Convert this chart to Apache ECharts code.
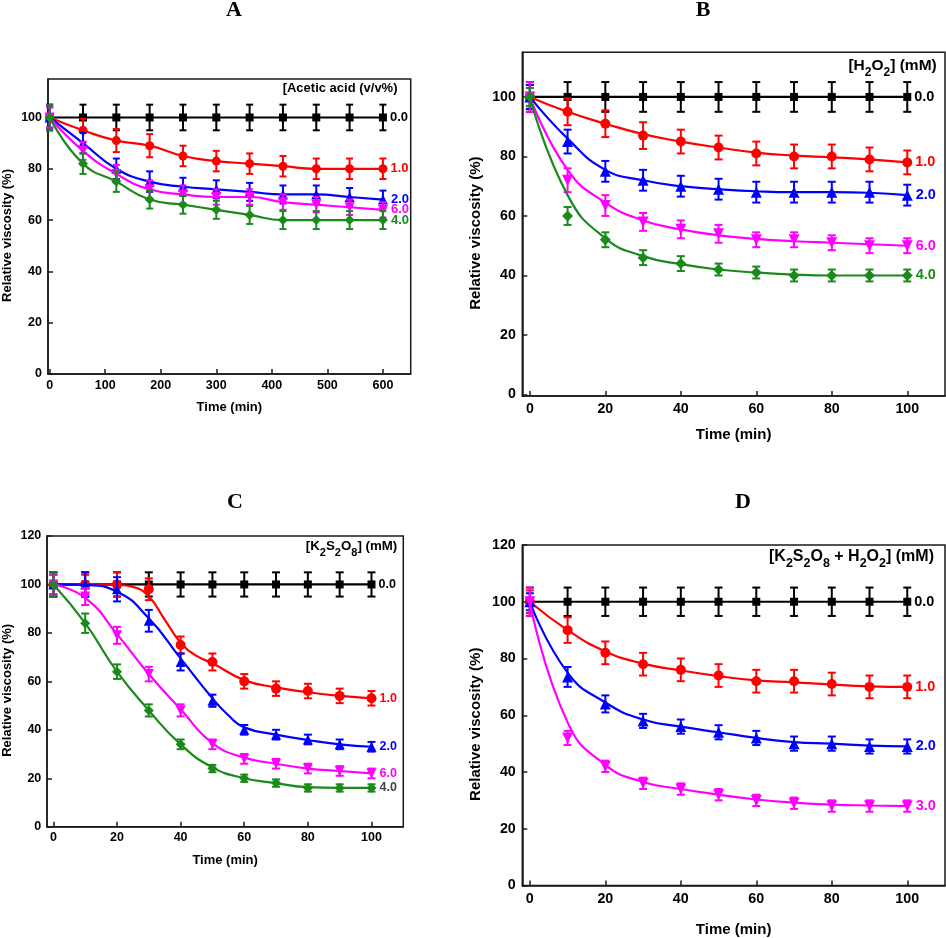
<!DOCTYPE html>
<html><head><meta charset="utf-8">
<script src="https://cdn.jsdelivr.net/npm/echarts@6/dist/echarts.min.js"></script>
<style>html,body{margin:0;padding:0;background:#fff}#c{width:946px;height:938px}</style>
</head><body><div id="c"></div>
<script>
// ---------- data ----------
const timeA = [0, 60, 120, 180, 240, 300, 360, 420, 480, 540, 600];
const timeBCD = [0, 10, 20, 30, 40, 50, 60, 70, 80, 90, 100];
const xTicksA = [0, 100, 200, 300, 400, 500, 600];
const xTicksBCD = [0, 20, 40, 60, 80, 100];
const yTicksAB = [0, 20, 40, 60, 80, 100];
const yTicksCD = [0, 20, 40, 60, 80, 100, 120];
const namesABC = ['0.0', '1.0', '2.0', '6.0', '4.0'];
const namesD = ['0.0', '1.0', '2.0', '3.0'];
const panelTitles = ['A', 'B', 'C', 'D'];
const xAxisName = 'Time (min)';
const yAxisName = 'Relative viscosity (%)';

// Panel A: acetic acid
const A0 = [100, 100, 100, 100, 100, 100, 100, 100, 100, 100, 100];
const A1 = [100, 95, 91, 89, 85, 83, 82, 81, 80, 80, 80];
const A2 = [100, 90, 80, 75, 73, 72, 71, 70, 70, 69, 68];
const A6 = [100, 87, 78, 72, 70, 69, 69, 67, 66, 65, 64];
const A4 = [100, 82, 75, 68, 66, 64, 62, 60, 60, 60, 60];
const errA0 = [5, 5, 5, 5, 5, 5, 5, 5, 5, 5, 5];
const errA1 = [4, 4.5, 4.5, 4.5, 4, 4, 4, 4, 4, 4, 4];
const errA2 = [4, 4, 4, 4, 3.5, 3.5, 3.5, 3.5, 3.5, 3.5, 3.5];
const errA6 = [4, 3.5, 3.5, 3.5, 3.5, 3, 3, 3, 3, 3, 3];
const errA4 = [5, 4, 4, 3.5, 3.5, 3.5, 3.5, 3.5, 3.5, 3.5, 3.5];

// Panel B: H2O2
const B0 = [100, 100, 100, 100, 100, 100, 100, 100, 100, 100, 100];
const B1 = [100, 95, 91, 87, 85, 83, 81, 80, 80, 79, 78];
const B2 = [100, 85, 75, 72, 70, 69, 68, 68, 68, 68, 67];
const B6 = [100, 72, 63.5, 58, 55.5, 54, 52, 52, 51, 50, 50];
const B4 = [100, 60, 52, 46, 44, 42, 41, 40, 40, 40, 40];
const errB0 = [5, 5, 5, 5, 5, 5, 5, 5, 5, 5, 5];
const errB1 = [4, 4.5, 4.5, 4.5, 4, 4, 4, 4, 4, 4, 4];
const errB2 = [4, 4, 3.5, 3.5, 3.5, 3.5, 3.5, 3.5, 3.5, 3.5, 3.5];
const errB6 = [5, 4, 3.5, 3, 3, 3, 2.5, 2.5, 2.5, 2.5, 2.5];
const errB4 = [3, 3, 2.5, 2.5, 2.5, 2, 2, 2, 2, 2, 2];
const fitB1 = [100, 95, 91, 87.5, 85, 83, 81.3, 80.3, 79.7, 79, 78];
const fitB2 = [100, 86, 75.5, 72, 70, 69, 68.3, 68, 68, 67.8, 67];
const fitB6 = [100, 75.5, 64.5, 58.5, 55.5, 53.5, 52.3, 51.5, 51, 50.5, 50];
const fitB4 = [100, 67, 52.5, 46.5, 43.8, 42, 41, 40.3, 40, 40, 40];

// Panel C: K2S2O8
const C0 = [100, 100, 100, 100, 100, 100, 100, 100, 100, 100, 100];
const C1 = [100, 100, 100, 98, 75, 68, 60, 57, 56, 54, 53];
const C2 = [100, 100, 98, 85, 68, 52, 40, 38, 36, 34, 33];
const C6 = [100, 95, 79, 63, 48, 34, 28, 26, 24, 23, 22];
const C4 = [100, 84, 64, 48, 34, 24, 20, 18, 16, 16, 16];
const errC0 = [5, 5, 5, 5, 5, 5, 5, 5, 5, 5, 5];
const errC1 = [4, 4, 5, 4.5, 3.5, 3.5, 3, 3, 3, 3, 3];
const errC2 = [5, 5, 5, 4.5, 3.5, 2.5, 2, 2, 2, 2, 2];
const errC6 = [4, 3.5, 3.5, 3, 2.5, 2, 2, 2, 2, 2, 2];
const errC4 = [5, 4, 3, 2.5, 2, 1.5, 1.5, 1.5, 1.5, 1.5, 1.5];
const fitTimeC1 = [0, 10, 20, 25, 30, 35, 40, 45, 50, 60, 70, 80, 90, 100];
const fitC1 = [100, 100, 99.8, 99, 95, 85.5, 76, 70.5, 67.5, 60.5, 57.5, 55.5, 54, 53];
const fitTimeC2 = [0, 10, 20, 30, 40, 50, 55, 60, 70, 80, 90, 100];
const fitC2 = [100, 99.8, 97, 86, 69.5, 53, 46, 41, 38, 35.8, 34, 33];
const fitC6 = [100, 94.5, 79.5, 63, 48.5, 34.5, 28.5, 26, 24, 23, 22];
const fitC4 = [100, 84, 64, 48, 34, 24.5, 20, 18, 16.3, 16, 16];

// Panel D: K2S2O8 + H2O2
const D0 = [100, 100, 100, 100, 100, 100, 100, 100, 100, 100, 100];
const D1 = [100, 90, 82, 78, 76, 74, 72, 72, 71, 70, 70];
const D2 = [100, 73.5, 64, 58, 56, 54, 52, 50, 50, 49, 49];
const D3 = [100, 52, 42, 36, 34, 32, 30, 29, 28, 28, 28];
const errD0 = [5, 5, 5, 5, 5, 5, 5, 5, 5, 5, 5];
const errD1 = [4, 4.5, 4, 4, 4, 4, 4, 4, 4, 4, 4];
const errD2 = [3, 3.5, 3, 2.5, 2.5, 2.5, 2.5, 2.5, 2.5, 2.5, 2.5];
const errD3 = [5, 2.5, 2, 2, 2, 2, 2, 2, 2, 2, 2];
const fitD1 = [100, 90, 82.5, 78.2, 75.8, 73.8, 72.3, 71.6, 70.8, 70.2, 70];
const fitD2 = [100, 75, 64.5, 58.5, 56, 54, 52, 50.5, 50, 49.3, 49];
const fitD3 = [100, 57.5, 42.5, 36.5, 34, 32, 30.3, 29.2, 28.5, 28.2, 28];

// ---------- styling / layout ----------
const FONT = '"Liberation Sans", Arial, Helvetica, sans-serif';
const SERIF = '"Liberation Serif", "Times New Roman", serif';
const AXIS = '#1a1a1a';
const COL = { k: '#000000', r: '#ff0000', b: '#0000ff', m: '#ff00ff', g: '#1a8a1a' };
const SYM = {
  k: { symbol: 'rect', rot: 0 },
  r: { symbol: 'circle', rot: 0 },
  b: { symbol: 'triangle', rot: 0 },
  m: { symbol: 'triangle', rot: 180 },
  g: { symbol: 'diamond', rot: 0 }
};

function mk(key, name, time, vals, errs, fitT, fitV, labelColor) {
  return { key, name, time, vals, errs, fitT: fitT || time, fitV: fitV || vals, labelColor: labelColor || COL[key] };
}

const panels = [
  {
    grid: { left: 46.7, top: 79, width: 364, height: 295 },
    xMin: -3, xMax: 650, xTicks: xTicksA, yMin: 0, yMax: 115, yTicks: yTicksAB,
    fs: 12.5, nfs: 13, lfs: 13, hfs: 13, hsub: 10,
    xNameGap: 27, xLabelMargin: 5, yNameGap: 34, yLabelMargin: 6,
    sizes: { k: 8, r: 9, b: 10, m: 10, g: 10 }, cap: 7,
    title: [234, 10], header: '{n|[Acetic acid (v/v%)}', headerPos: [397.5, 91],
    series: [
      mk('k', namesABC[0], timeA, A0, errA0),
      mk('r', namesABC[1], timeA, A1, errA1),
      mk('b', namesABC[2], timeA, A2, errA2),
      mk('m', namesABC[3], timeA, A6, errA6),
      mk('g', namesABC[4], timeA, A4, errA4)
    ]
  },
  {
    grid: { left: 522.3, top: 52.3, width: 422.7, height: 343.7 },
    xMin: -2, xMax: 110, xTicks: xTicksBCD, yMin: -0.5, yMax: 115, yTicks: yTicksAB,
    fs: 14.2, nfs: 15, lfs: 14.5, hfs: 15.5, hsub: 12,
    xNameGap: 31.5, xLabelMargin: 6, yNameGap: 38.8, yLabelMargin: 6.5,
    sizes: { k: 8, r: 10, b: 11, m: 11, g: 11 }, cap: 8,
    title: [703, 10], header: '{n|[H}{s|2}{n|O}{s|2}{n|] (mM)}', headerPos: [936.7, 68.5],
    series: [
      mk('k', namesABC[0], timeBCD, B0, errB0),
      mk('r', namesABC[1], timeBCD, B1, errB1, timeBCD, fitB1),
      mk('b', namesABC[2], timeBCD, B2, errB2, timeBCD, fitB2),
      mk('m', namesABC[3], timeBCD, B6, errB6, timeBCD, fitB6),
      mk('g', namesABC[4], timeBCD, B4, errB4, timeBCD, fitB4)
    ]
  },
  {
    grid: { left: 45.7, top: 536, width: 357.6, height: 290.7 },
    xMin: -2, xMax: 110, xTicks: xTicksBCD, yMin: 0, yMax: 120, yTicks: yTicksCD,
    fs: 12.5, nfs: 13, lfs: 12.5, hfs: 13.3, hsub: 11,
    xNameGap: 27, xLabelMargin: 4.5, yNameGap: 33, yLabelMargin: 5.7,
    sizes: { k: 8, r: 10, b: 10, m: 10, g: 10 }, cap: 8,
    title: [235, 502], header: '{n|[K}{s|2}{n|S}{s|2}{n|O}{s|8}{n|] (mM)}', headerPos: [397.3, 549],
    series: [
      mk('k', namesABC[0], timeBCD, C0, errC0),
      mk('r', namesABC[1], timeBCD, C1, errC1, fitTimeC1, fitC1),
      mk('b', namesABC[2], timeBCD, C2, errC2, fitTimeC2, fitC2),
      mk('m', namesABC[3], timeBCD, C6, errC6, timeBCD, fitC6),
      mk('g', namesABC[4], timeBCD, C4, errC4, timeBCD, fitC4, '#444444')
    ]
  },
  {
    grid: { left: 522.3, top: 545, width: 422.7, height: 344 },
    xMin: -2, xMax: 110, xTicks: xTicksBCD, yMin: 0, yMax: 120, yTicks: yTicksCD,
    fs: 14.3, nfs: 15, lfs: 14.5, hfs: 16, hsub: 12.5,
    xNameGap: 36.5, xLabelMargin: 7, yNameGap: 38.8, yLabelMargin: 6.5,
    sizes: { k: 8, r: 10, b: 11, m: 11, g: 11 }, cap: 8,
    title: [743, 502], header: '{n|[K}{s|2}{n|S}{s|2}{n|O}{s|8}{n| + H}{s|2}{n|O}{s|2}{n|] (mM)}', headerPos: [934, 559.5],
    series: [
      mk('k', namesD[0], timeBCD, D0, errD0),
      mk('r', namesD[1], timeBCD, D1, errD1, timeBCD, fitD1),
      mk('b', namesD[2], timeBCD, D2, errD2, timeBCD, fitD2),
      mk('m', namesD[3], timeBCD, D3, errD3, timeBCD, fitD3)
    ]
  }
];

const grids = [], xAxes = [], yAxes = [], series = [], graphics = [];

panels.forEach((p, pi) => {
  grids.push(Object.assign({ show: true, borderColor: AXIS, borderWidth: 1.5, backgroundColor: 'transparent' }, p.grid));
  xAxes.push({
    type: 'value', gridIndex: pi, min: p.xMin, max: p.xMax,
    name: xAxisName, nameLocation: 'middle', nameGap: p.xNameGap,
    nameTextStyle: { fontFamily: FONT, fontWeight: 'bold', fontSize: p.nfs, color: '#000' },
    axisLine: { show: true, onZero: false, lineStyle: { color: AXIS, width: 1.5 } },
    axisTick: { show: true, inside: true, length: 5, customValues: p.xTicks, lineStyle: { color: AXIS, width: 1.5 } },
    axisLabel: { customValues: p.xTicks, margin: p.xLabelMargin, fontFamily: FONT, fontWeight: 'bold', fontSize: p.fs, color: '#000' },
    splitLine: { show: false }
  });
  yAxes.push({
    type: 'value', gridIndex: pi, min: p.yMin, max: p.yMax,
    name: yAxisName, nameLocation: 'middle', nameGap: p.yNameGap, nameRotate: 90,
    nameTextStyle: { fontFamily: FONT, fontWeight: 'bold', fontSize: p.nfs, color: '#000', padding: [0, 18, 0, 0] },
    axisLine: { show: true, onZero: false, lineStyle: { color: AXIS, width: 1.5 } },
    axisTick: { show: true, inside: true, length: 5, customValues: p.yTicks, lineStyle: { color: AXIS, width: 1.5 } },
    axisLabel: { customValues: p.yTicks, margin: p.yLabelMargin, fontFamily: FONT, fontWeight: 'bold', fontSize: p.fs, color: '#000' },
    splitLine: { show: false }
  });

  p.series.forEach((s, si) => {
    const color = COL[s.key];
    const zb = 10 + si * 3;
    // fitted curve
    series.push({
      type: 'line', xAxisIndex: pi, yAxisIndex: pi, z: zb,
      data: s.fitT.map((t, i) => [t, s.fitV[i]]),
      smooth: 0.5, showSymbol: false, symbol: 'none',
      lineStyle: { color, width: 2.2 }, silent: true, animation: false
    });
    // error bars
    const cap = p.cap;
    series.push({
      type: 'custom', xAxisIndex: pi, yAxisIndex: pi, z: zb + 1, clip: false,
      data: s.time.map((t, i) => [t, s.vals[i], s.errs[i]]),
      encode: { x: 0, y: 1 },
      renderItem: function (params, api) {
        const x = api.value(0), y = api.value(1), e = api.value(2);
        const top = api.coord([x, y + e]);
        const bot = api.coord([x, y - e]);
        const st = { stroke: color, lineWidth: 2 };
        return {
          type: 'group', children: [
            { type: 'line', shape: { x1: top[0], y1: top[1], x2: bot[0], y2: bot[1] }, style: st },
            { type: 'line', shape: { x1: top[0] - cap / 2, y1: top[1], x2: top[0] + cap / 2, y2: top[1] }, style: st },
            { type: 'line', shape: { x1: bot[0] - cap / 2, y1: bot[1], x2: bot[0] + cap / 2, y2: bot[1] }, style: st }
          ]
        };
      },
      animation: false, silent: true
    });
    // markers with end label
    const n = s.time.length;
    series.push({
      type: 'scatter', xAxisIndex: pi, yAxisIndex: pi, z: zb + 2,
      symbol: SYM[s.key].symbol, symbolRotate: SYM[s.key].rot, symbolSize: p.sizes[s.key],
      itemStyle: { color, opacity: 1 },
      data: s.time.map((t, i) => i === n - 1 ? {
        value: [t, s.vals[i]],
        label: {
          show: true, position: 'right', distance: 3, formatter: s.name,
          fontFamily: FONT, fontWeight: 'bold', fontSize: p.lfs, color: s.labelColor
        }
      } : [t, s.vals[i]]),
      animation: false, silent: true
    });
  });

  graphics.push({
    type: 'text', x: p.title[0], y: p.title[1],
    style: { text: panelTitles[pi], font: 'bold 22px ' + SERIF, fill: '#000', align: 'center', verticalAlign: 'middle' }
  });
  const lh = Math.round(p.hfs * 1.35);
  graphics.push({
    type: 'text', x: p.headerPos[0], y: p.headerPos[1], z: 100,
    style: {
      text: p.header, align: 'right', verticalAlign: 'middle', fill: '#000',
      rich: {
        n: { fontFamily: FONT, fontWeight: 'bold', fontSize: p.hfs, lineHeight: lh, verticalAlign: 'top', fill: '#000' },
        s: { fontFamily: FONT, fontWeight: 'bold', fontSize: p.hsub, lineHeight: p.hsub, verticalAlign: 'bottom', fill: '#000' }
      }
    }
  });
});

const chart = echarts.init(document.getElementById('c'), null, { renderer: 'canvas' });
chart.setOption({
  animation: false,
  backgroundColor: '#ffffff',
  grid: grids, xAxis: xAxes, yAxis: yAxes, series: series, graphic: graphics
});
</script></body></html>
